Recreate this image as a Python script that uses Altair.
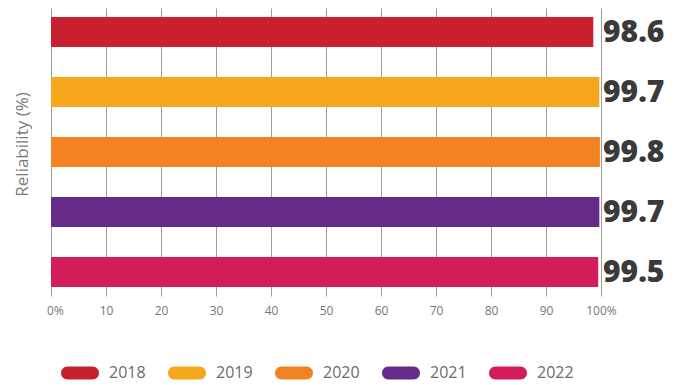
import altair as alt
import pandas as pd

years = ["2018", "2019", "2020", "2021", "2022"]
reliability = [98.6, 99.7, 99.8, 99.7, 99.5]
colors = ["#C8202D", "#F6A71B", "#F38322", "#662B88", "#D31C5A"]
x_ticks = [0, 10, 20, 30, 40, 50, 60, 70, 80, 90, 100]

df = pd.DataFrame({
    "year": years,
    "value": reliability,
    "label": [f"{v:.1f}" for v in reliability],
})

pill = ("M-0.658,-0.342 L0.658,-0.342 A0.342,0.342 0 0 1 0.658,0.342 "
        "L-0.658,0.342 A0.342,0.342 0 0 1 -0.658,-0.342 Z")

FONT = "Open Sans"

y_enc = alt.Y(
    "year:N",
    sort=years,
    scale=alt.Scale(paddingInner=0.5, paddingOuter=0.15),
    axis=alt.Axis(
        labels=False, ticks=False, domain=False, grid=False,
        title="Reliability (%)", titleFont=FONT, titleFontSize=17,
        titleFontWeight="normal", titleColor="#7a7a7a", titlePadding=20,
        titleY=136,
    ),
)

x_enc = alt.X(
    "value:Q",
    scale=alt.Scale(domain=[0, 100], nice=False, zero=True),
    axis=alt.Axis(
        values=x_ticks, title=None, grid=True, gridColor="#9c9c9c",
        gridWidth=1, domain=False, ticks=False, labelFlush=False,
        labelExpr="datum.value == 0 || datum.value == 100 ? datum.value + '%' : datum.value",
        labelFont=FONT, labelFontSize=12, labelColor="#777777", labelPadding=9,
        labelOffset={"condition": {"test": "datum.value == 0", "value": 4}, "value": 0},
    ),
)

bars = alt.Chart(df).mark_bar().encode(
    y=y_enc,
    x=x_enc,
    color=alt.Color(
        "year:N",
        scale=alt.Scale(domain=years, range=colors),
        legend=alt.Legend(
            title=None, orient="none", direction="horizontal",
            legendX=10, legendY=346, padding=0,
            symbolType=pill, symbolSize=1444, symbolStrokeWidth=0,
            symbolOpacity=1, labelOffset=10, columnPadding=22,
            labelFont=FONT, labelFontSize=16, labelColor="#6b6b6b",
        ),
    ),
)

texts = alt.Chart(df).mark_text(
    align="left", baseline="middle", dx=2, dy=1,
    font=FONT, fontSize=30, fontWeight=800, color="#3a3a3a",
).encode(
    y=alt.Y("year:N", sort=years),
    x=alt.datum(100),
    text="label:N",
)

chart = (bars + texts).properties(
    width=550, height=288,
    autosize=alt.AutoSizeParams(type="none"),
    padding={"left": 43, "top": 0, "right": 75, "bottom": 86},
).configure_view(stroke=None)

chart.save("out.html", embed_options={"renderer": "svg", "actions": False})
